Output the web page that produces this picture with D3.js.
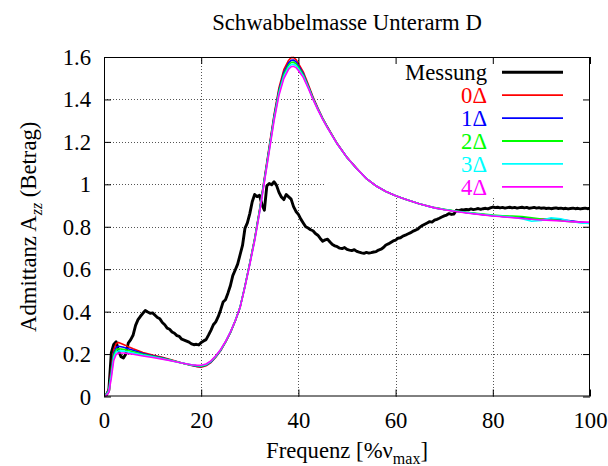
<!DOCTYPE html>
<html>
<head>
<meta charset="utf-8">
<script src="https://cdn.jsdelivr.net/npm/d3@7"></script>
<style>
  html, body { margin: 0; padding: 0; background: #fff; }
  svg { display: block; font-family: "Liberation Serif", "Times New Roman", serif; }
</style>
</head>
<body>
<svg id="chart" width="608" height="466"></svg>
<script>
// ---- data ---------------------------------------------------------------
const chartTitle = "Schwabbelmasse Unterarm D";
const xTicks = [0, 20, 40, 60, 80, 100];
const yTicks = [0, 0.2, 0.4, 0.6, 0.8, 1, 1.2, 1.4, 1.6];
const seriesNames = ["Messung", "0\u0394", "1\u0394", "2\u0394", "3\u0394", "4\u0394"];
const seriesColors = ["#000000", "#ff0000", "#0000ff", "#00ff00", "#00ffff", "#ff00ff"];

// measured admittance, sampled every 0.5 % of the max frequency
const measStep = 0.5;
const measValues = [
  0.000, 0.008, 0.030, 0.205, 0.245, 0.258, 0.215, 0.188, 0.182, 0.200,
  0.252, 0.268, 0.290, 0.335, 0.362, 0.378, 0.392, 0.405, 0.398, 0.392,
  0.394, 0.383, 0.372, 0.366, 0.349, 0.338, 0.322, 0.317, 0.304, 0.298,
  0.287, 0.283, 0.270, 0.266, 0.261, 0.256, 0.248, 0.244, 0.246, 0.243,
  0.255, 0.262, 0.268, 0.289, 0.312, 0.338, 0.352, 0.376, 0.408, 0.445,
  0.456, 0.487, 0.522, 0.570, 0.596, 0.624, 0.668, 0.712, 0.792, 0.818,
  0.862, 0.918, 0.952, 0.942, 0.948, 0.905, 0.878, 0.992, 1.004, 0.998,
  1.012, 0.995, 0.962, 0.940, 0.928, 0.952, 0.941, 0.930, 0.895, 0.872,
  0.858, 0.836, 0.818, 0.800, 0.794, 0.786, 0.781, 0.768, 0.760, 0.745,
  0.732, 0.738, 0.741, 0.728, 0.716, 0.710, 0.706, 0.699, 0.697, 0.702,
  0.693, 0.690, 0.688, 0.692, 0.684, 0.680, 0.677, 0.675, 0.679, 0.676,
  0.678, 0.681, 0.683, 0.690, 0.694, 0.702, 0.714, 0.719, 0.726, 0.733,
  0.737, 0.746, 0.748, 0.756, 0.760, 0.766, 0.771, 0.778, 0.783, 0.788,
  0.798, 0.806, 0.812, 0.818, 0.824, 0.822, 0.831, 0.835, 0.840, 0.846,
  0.851, 0.855, 0.862, 0.858, 0.860, 0.878, 0.876, 0.880, 0.879, 0.882,
  0.880, 0.884, 0.881, 0.883, 0.886, 0.882, 0.885, 0.887, 0.884, 0.889,
  0.893, 0.890, 0.892, 0.889, 0.891, 0.888, 0.890, 0.892, 0.889, 0.891,
  0.888, 0.890, 0.892, 0.889, 0.891, 0.887, 0.889, 0.891, 0.888, 0.890,
  0.887, 0.889, 0.886, 0.888, 0.885, 0.887, 0.889, 0.886, 0.888, 0.885,
  0.887, 0.884, 0.886, 0.888, 0.885, 0.887, 0.884, 0.886, 0.888, 0.885,
  0.887
];

// model frequencies (% of max) shared by the five model variants
const modelFreq = [
  0, 0.5, 1, 1.5, 2, 2.5, 3, 4, 5, 6, 8, 10, 12, 14, 16, 18, 19, 20, 21, 22,
  23, 24, 25, 26, 27, 28, 29, 30, 31, 32, 33, 34, 35, 36, 37, 38, 38.5, 39, 39.5, 40,
  41, 42, 43, 44, 45, 46, 48, 50, 52, 54, 56, 58, 60, 62, 65, 68, 70, 72, 75, 78,
  80, 82, 84, 86, 88, 90, 92, 94, 96, 98, 100
];
const model0 = [
  0.000, 0.010, 0.040, 0.130, 0.220, 0.250, 0.255, 0.245, 0.235, 0.225, 0.207, 0.195, 0.185, 0.172, 0.158, 0.146, 0.141, 0.138, 0.145, 0.160,
  0.185, 0.215, 0.255, 0.300, 0.355, 0.420, 0.520, 0.630, 0.745, 0.880, 1.030, 1.180, 1.330, 1.455, 1.540, 1.585, 1.597, 1.598, 1.588, 1.570,
  1.530, 1.472, 1.412, 1.360, 1.312, 1.270, 1.192, 1.127, 1.075, 1.027, 0.992, 0.966, 0.946, 0.930, 0.907, 0.890, 0.881, 0.874, 0.866, 0.858,
  0.853, 0.849, 0.846, 0.843, 0.838, 0.836, 0.834, 0.831, 0.826, 0.821, 0.818
];
const model1 = [
  0.000, 0.010, 0.035, 0.120, 0.205, 0.232, 0.237, 0.232, 0.225, 0.218, 0.203, 0.192, 0.182, 0.170, 0.158, 0.147, 0.143, 0.141, 0.147, 0.162,
  0.187, 0.217, 0.256, 0.301, 0.356, 0.421, 0.520, 0.628, 0.742, 0.876, 1.025, 1.173, 1.322, 1.445, 1.528, 1.573, 1.584, 1.586, 1.577, 1.560,
  1.522, 1.466, 1.408, 1.357, 1.310, 1.268, 1.191, 1.126, 1.074, 1.027, 0.992, 0.966, 0.946, 0.930, 0.907, 0.889, 0.881, 0.874, 0.865, 0.857,
  0.852, 0.848, 0.846, 0.844, 0.836, 0.833, 0.838, 0.833, 0.828, 0.822, 0.816
];
const model2 = [
  0.000, 0.010, 0.030, 0.110, 0.195, 0.220, 0.225, 0.222, 0.217, 0.211, 0.199, 0.190, 0.180, 0.169, 0.158, 0.148, 0.145, 0.143, 0.149, 0.164,
  0.189, 0.219, 0.257, 0.302, 0.357, 0.421, 0.519, 0.627, 0.740, 0.872, 1.020, 1.167, 1.315, 1.437, 1.518, 1.563, 1.574, 1.576, 1.568, 1.552,
  1.516, 1.462, 1.405, 1.355, 1.309, 1.267, 1.190, 1.126, 1.074, 1.027, 0.992, 0.966, 0.946, 0.930, 0.907, 0.890, 0.882, 0.875, 0.867, 0.860,
  0.855, 0.852, 0.850, 0.848, 0.842, 0.836, 0.834, 0.829, 0.824, 0.820, 0.817
];
const model3 = [
  0.000, 0.008, 0.025, 0.100, 0.185, 0.210, 0.215, 0.214, 0.210, 0.205, 0.195, 0.187, 0.178, 0.168, 0.158, 0.149, 0.146, 0.145, 0.151, 0.166,
  0.190, 0.220, 0.258, 0.303, 0.357, 0.420, 0.518, 0.625, 0.737, 0.868, 1.015, 1.161, 1.308, 1.428, 1.508, 1.553, 1.564, 1.566, 1.559, 1.544,
  1.510, 1.458, 1.402, 1.353, 1.307, 1.266, 1.190, 1.126, 1.074, 1.027, 0.992, 0.966, 0.946, 0.930, 0.907, 0.889, 0.881, 0.874, 0.866, 0.858,
  0.853, 0.849, 0.845, 0.838, 0.826, 0.830, 0.842, 0.838, 0.826, 0.818, 0.815
];
const model4 = [
  0.000, 0.006, 0.020, 0.085, 0.170, 0.198, 0.205, 0.205, 0.202, 0.199, 0.191, 0.184, 0.176, 0.167, 0.158, 0.150, 0.148, 0.147, 0.153, 0.168,
  0.192, 0.222, 0.259, 0.304, 0.357, 0.419, 0.516, 0.622, 0.734, 0.864, 1.010, 1.155, 1.300, 1.420, 1.498, 1.543, 1.554, 1.556, 1.550, 1.536,
  1.504, 1.454, 1.400, 1.351, 1.306, 1.265, 1.190, 1.126, 1.074, 1.027, 0.992, 0.966, 0.946, 0.930, 0.907, 0.889, 0.880, 0.873, 0.864, 0.856,
  0.851, 0.847, 0.843, 0.839, 0.835, 0.832, 0.830, 0.827, 0.824, 0.822, 0.822
];

// ---- layout -------------------------------------------------------------
const svg = d3.select("#chart");
const plotLeft = 104, plotRight = 590, plotTop = 57, plotBottom = 396.5;
const fontSize = 22.7;

const x = d3.scaleLinear().domain([0, 100]).range([plotLeft, plotRight]);
const y = d3.scaleLinear().domain([0, 1.6]).range([plotBottom, plotTop]);

// series as point lists
const measPoints = measValues.map((v, i) => [i * measStep, v]);
const modelSeries = [model0, model1, model2, model3, model4].map(vals =>
  vals.map((v, i) => [modelFreq[i], v]));
const allSeries = [measPoints].concat(modelSeries);

// ---- grid ---------------------------------------------------------------
const grid = svg.append("g")
  .attr("stroke", "#555")
  .attr("stroke-width", 1)
  .attr("stroke-dasharray", "1,2");
grid.selectAll("line.gx")
  .data(xTicks.slice(1, -1))
  .join("line")
  .attr("class", "gx")
  .attr("x1", d => Math.round(x(d)) + 0.5).attr("x2", d => Math.round(x(d)) + 0.5)
  .attr("y1", plotTop).attr("y2", plotBottom);
grid.selectAll("line.gy")
  .data(yTicks.slice(1, -1))
  .join("line")
  .attr("class", "gy")
  .attr("y1", d => Math.round(y(d)) + 0.5).attr("y2", d => Math.round(y(d)) + 0.5)
  .attr("x1", plotLeft).attr("x2", plotRight);

// opaque key area masks the grid
const keyBox = { x0: 45.5, x1: 100, y0: 0.94, y1: 1.6 };
svg.append("rect")
  .attr("x", x(keyBox.x0)).attr("y", y(keyBox.y1))
  .attr("width", x(keyBox.x1) - x(keyBox.x0))
  .attr("height", y(keyBox.y0) - y(keyBox.y1))
  .attr("fill", "#fff");

// ---- curves -------------------------------------------------------------
svg.append("defs").append("clipPath").attr("id", "plotClip")
  .append("rect").attr("x", plotLeft).attr("y", plotTop - 2)
  .attr("width", plotRight - plotLeft).attr("height", plotBottom - plotTop + 2);

const line = d3.line().x(d => x(d[0])).y(d => y(d[1]));
const curves = svg.append("g").attr("clip-path", "url(#plotClip)");
curves.selectAll("path")
  .data(allSeries)
  .join("path")
  .attr("d", line)
  .attr("fill", "none")
  .attr("stroke", (d, i) => seriesColors[i])
  .attr("stroke-width", (d, i) => i === 0 ? 2.9 : 1.6)
  .attr("stroke-linejoin", "round")
  .attr("stroke-linecap", "round");

// ---- axes ---------------------------------------------------------------
const tickLen = 7;
const axB = svg.append("g").attr("transform", `translate(0,${plotBottom})`)
  .call(d3.axisBottom(x).tickValues(xTicks).tickSize(-tickLen).tickFormat(d3.format("d")));
axB.selectAll("text").attr("y", 31.5).attr("dy", null);

const axL = svg.append("g").attr("transform", `translate(${plotLeft},0)`)
  .call(d3.axisLeft(y).tickValues(yTicks).tickSize(-tickLen).tickPadding(13)
    .tickFormat(d => d === 0 || d === 1 ? String(d) : d3.format(".1f")(d)));
axL.selectAll("text").attr("dy", "0.33em");

const axT = svg.append("g").attr("transform", `translate(0,${plotTop})`)
  .call(d3.axisTop(x).tickValues(xTicks).tickSize(-tickLen).tickFormat(""));
const axR = svg.append("g").attr("transform", `translate(${plotRight},0)`)
  .call(d3.axisRight(y).tickValues(yTicks).tickSize(-tickLen).tickFormat(""));

[axB, axL, axT, axR].forEach(g => {
  g.select(".domain").remove();
  g.selectAll("line").attr("stroke", "#000").attr("stroke-width", 1);
  g.selectAll("text")
    .attr("font-family", "Liberation Serif, serif")
    .attr("font-size", fontSize)
    .attr("fill", "#000");
});

// plot border
svg.append("rect")
  .attr("x", plotLeft + 0.5).attr("y", plotTop + 0.5)
  .attr("width", plotRight - plotLeft - 1).attr("height", plotBottom - plotTop - 1)
  .attr("fill", "none").attr("stroke", "#000").attr("stroke-width", 1);

// ---- key ----------------------------------------------------------------
const keyTextX = 487, keyLineX0 = 502, keyLineX1 = 563;
const keyRowY0 = 72.3, keyRowStep = 22.9;
const key = svg.append("g");
seriesNames.forEach((name, i) => {
  const ry = keyRowY0 + i * keyRowStep;
  key.append("text")
    .attr("x", keyTextX).attr("y", ry + 8)
    .attr("text-anchor", "end")
    .attr("font-size", fontSize)
    .attr("fill", seriesColors[i])
    .text(name);
  key.append("line")
    .attr("x1", keyLineX0).attr("x2", keyLineX1)
    .attr("y1", ry).attr("y2", ry)
    .attr("stroke", seriesColors[i])
    .attr("stroke-width", i === 0 ? 3 : 1.8);
});

// ---- titles -------------------------------------------------------------
svg.append("text")
  .attr("x", (plotLeft + plotRight) / 2).attr("y", 30)
  .attr("text-anchor", "middle").attr("font-size", fontSize)
  .text(chartTitle);

const xl = svg.append("text")
  .attr("x", (plotLeft + plotRight) / 2).attr("y", 458)
  .attr("text-anchor", "middle").attr("font-size", fontSize);
xl.append("tspan").text("Frequenz [%\u03BD");
xl.append("tspan").attr("dy", 6).attr("font-size", 16).text("max");
xl.append("tspan").attr("dy", -6).text("]");

const yl = svg.append("text")
  .attr("transform", `translate(36,${(plotTop + plotBottom) / 2}) rotate(-90)`)
  .attr("text-anchor", "middle").attr("font-size", fontSize);
yl.append("tspan").text("Admittanz A");
yl.append("tspan").attr("dy", 6).attr("font-size", 16).attr("font-style", "italic").text("zz");
yl.append("tspan").attr("dy", -6).text(" (Betrag)");
</script>
</body>
</html>
